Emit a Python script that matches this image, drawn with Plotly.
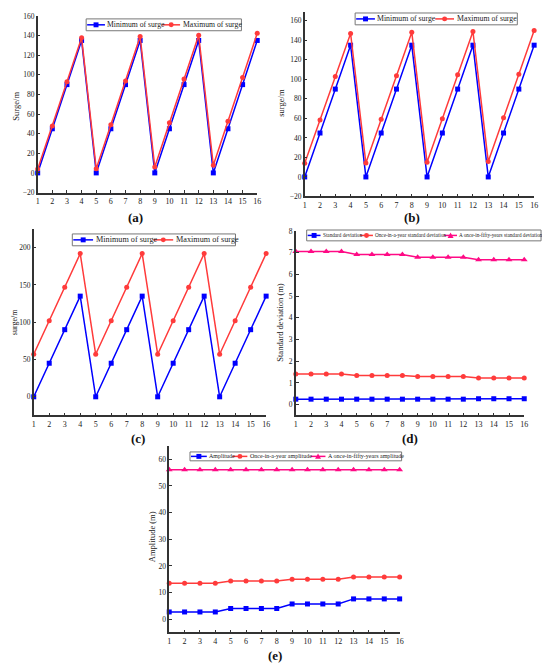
import plotly.graph_objects as go

# the page body adds an 8px margin, so the figure is drawn 8px smaller
# and all pixel positions below are shifted by that offset
OFF = 8
W, H = 550 - OFF, 671 - OFF
x = list(range(1, 17))

# (a)
a_min = [0, 45, 90, 135, 0, 45, 90, 135, 0, 45, 90, 135, 0, 45, 90, 135]
a_max = [4, 47.7, 93, 137.7, 4.3, 49, 93.7, 139, 6, 51, 95.7, 140.3, 7.7, 52.7, 97.3, 142.3]
# (b)
b_min = [0, 45, 90, 135, 0, 45, 90, 135, 0, 45, 90, 135, 0, 45, 90, 135]
b_max = [14, 58.3, 103, 147, 14.3, 59, 103.7, 148.3, 15, 59.7, 104.7, 149, 15.7, 60.7, 105.3, 150]
# (c)
c_min = [0, 45, 90, 135, 0, 45, 90, 135, 0, 45, 90, 135, 0, 45, 90, 135]
c_max = [57, 102, 147, 192, 57, 102, 147, 192, 57, 102, 147, 192, 57, 102, 147, 192]
# (d)
d_std = [0.25] * 12 + [0.27] * 4
d_year = [1.41] * 4 + [1.34] * 4 + [1.29] * 4 + [1.23] * 4
d_fifty = [7.05] * 4 + [6.92] * 4 + [6.79] * 4 + [6.67] * 4
# (e)
e_amp = [2.7] * 4 + [4.0] * 4 + [5.7] * 4 + [7.6] * 4
e_year = [13.5] * 4 + [14.3] * 4 + [15.0] * 4 + [15.8] * 4
e_fifty = [56.1] * 16

BLUE = "#0000FF"
RED = "#FF3B3B"
PINK = "#FF0A85"
FONT = "Liberation Serif"
AXC = "#333333"


def px(v):
    return min(max((v - OFF) / W, 0), 1)


def py(v):
    return min(max(1 - (v - OFF) / H, 0), 1)


# panel pixel boxes: x0, x1, ytop, ybottom, yrange, dtick
panels = [
    (36, 258, 12, 191, [-20, 160], 20),
    (306, 538, 8, 195, [-20, 169], 20),
    (32, 267, 228, 417, [-25, 225], 50),
    (297, 528, 230, 417, [-0.5, 8], 1),
    (169, 402, 448, 637, [-5, 65], 10),
]

series = [
    [("Minimum of surge", a_min, BLUE, "square"), ("Maximum of surge", a_max, RED, "circle")],
    [("Minimum of surge", b_min, BLUE, "square"), ("Maximum of surge", b_max, RED, "circle")],
    [("Minimum of surge", c_min, BLUE, "square"), ("Maximum of surge", c_max, RED, "circle")],
    [("Standard deviation", d_std, BLUE, "square"),
     ("Once-in-a-year standard deviation", d_year, RED, "circle"),
     ("A once-in-fifty-years standard deviation", d_fifty, PINK, "triangle-up")],
    [("Amplitude", e_amp, BLUE, "square"),
     ("Once-in-a-year amplitude", e_year, RED, "circle"),
     ("A once-in-fifty-years amplitude", e_fifty, PINK, "triangle-up")],
]

# legend boxes: (x0, x1, ytop, ybottom, font size, [(sample x0, sample x1), ...])
legends = [
    (85, 242, 15, 27, 7.7, [(86, 104), (162, 180)]),
    (357, 521, 9, 21, 7.8, [(358, 377), (438, 457)]),
    (71, 236, 233, 245, 8.2, [(72, 92), (153, 173)]),
    (308, 545, 229, 240, 5.2, [(309, 322), (362, 375), (447, 460)]),
    (190, 404, 454, 463, 6.0, [(191, 207), (233, 248), (312, 327)]),
]

fig = go.Figure()
layout = dict(width=W, height=H, margin=dict(l=0, r=0, t=0, b=0),
              plot_bgcolor="white", paper_bgcolor="white", showlegend=False)

for i, (x0, x1, yt, yb, yr, dt) in enumerate(panels):
    n = "" if i == 0 else str(i + 1)
    for name, vals, col, sym in series[i]:
        fig.add_trace(go.Scatter(
            x=x, y=vals, name=name, mode="lines+markers",
            line=dict(color=col, width=1.5),
            marker=dict(color=col, symbol=sym, size=5 if sym != "triangle-up" else 6),
            xaxis="x" + n, yaxis="y" + n, cliponaxis=False))
    layout["xaxis" + n] = dict(
        domain=[px(x0), px(x1)], anchor="y" + n, range=[1, 16], dtick=1,
        showgrid=False, zeroline=False, showline=True, linecolor=AXC, linewidth=1.5,
        ticks="inside", ticklen=3, tickcolor=AXC,
        tickfont=dict(family=FONT, size=8, color="#222"))
    layout["yaxis" + n] = dict(
        domain=[py(yb), py(yt)], anchor="x" + n, range=yr, dtick=dt,
        showgrid=False, zeroline=False, showline=True, linecolor=AXC, linewidth=1.5,
        ticks="inside", ticklen=3, tickcolor=AXC,
        tickfont=dict(family=FONT, size=7.5, color="#222"))

fig.update_layout(**layout)

# legends drawn as boxes with sample lines, markers and text
for i, (bx0, bx1, byt, byb, fs, samples) in enumerate(legends):
    fig.add_shape(type="rect", xref="paper", yref="paper",
                  x0=px(bx0), x1=px(bx1), y0=py(byb), y1=py(byt),
                  line=dict(color="#777", width=1), fillcolor="white")
    ym = (byt + byb) / 2
    for (sx0, sx1), (name, vals, col, sym) in zip(samples, series[i]):
        fig.add_shape(type="line", xref="paper", yref="paper",
                      x0=px(sx0), x1=px(sx1), y0=py(ym), y1=py(ym),
                      line=dict(color=col, width=1.5))
        cx = (sx0 + sx1) / 2
        r = 2.5
        if sym == "square":
            fig.add_shape(type="rect", xref="paper", yref="paper",
                          x0=px(cx - r), x1=px(cx + r), y0=py(ym + r), y1=py(ym - r),
                          line=dict(width=0), fillcolor=col)
        elif sym == "circle":
            fig.add_shape(type="circle", xref="paper", yref="paper",
                          x0=px(cx - r), x1=px(cx + r), y0=py(ym + r), y1=py(ym - r),
                          line=dict(width=0), fillcolor=col)
        else:
            path = "M %f,%f L %f,%f L %f,%f Z" % (
                px(cx - 3), py(ym + 2.5), px(cx + 3), py(ym + 2.5), px(cx), py(ym - 3))
            fig.add_shape(type="path", xref="paper", yref="paper", path=path,
                          line=dict(width=0), fillcolor=col)
        fig.add_annotation(text=name, x=px(sx1 + 0.5), y=py(ym), xref="paper", yref="paper",
                           xanchor="left", yanchor="middle", showarrow=False,
                           font=dict(family=FONT, size=fs, color="#222"))

ytitles = [
    ("Surge/m", 14, 103, 8.5),
    ("surge/m", 282, 100, 8.5),
    ("surge/m", 12.5, 322, 8),
    ("Standard deviation (m)", 281, 322, 8.5),
    ("Amplitude (m)", 151, 540, 8.5),
]
for t, ax, ay, fs in ytitles:
    fig.add_annotation(text=t, x=px(ax), y=py(ay), xref="paper", yref="paper",
                       xanchor="center", yanchor="middle",
                       showarrow=False, textangle=-90,
                       font=dict(family=FONT, size=fs, color="#222"))

labels = [("(a)", 135, 216), ("(b)", 415, 216), ("(c)", 137, 440),
          ("(d)", 412, 440), ("(e)", 276, 660)]
for t, ax, ay in labels:
    fig.add_annotation(text="<b>" + t + "</b>", x=px(ax), y=py(ay), xref="paper", yref="paper",
                       xanchor="center", yanchor="middle",
                       showarrow=False, font=dict(family=FONT, size=13, color="#111"))

fig.write_html("out.html")
